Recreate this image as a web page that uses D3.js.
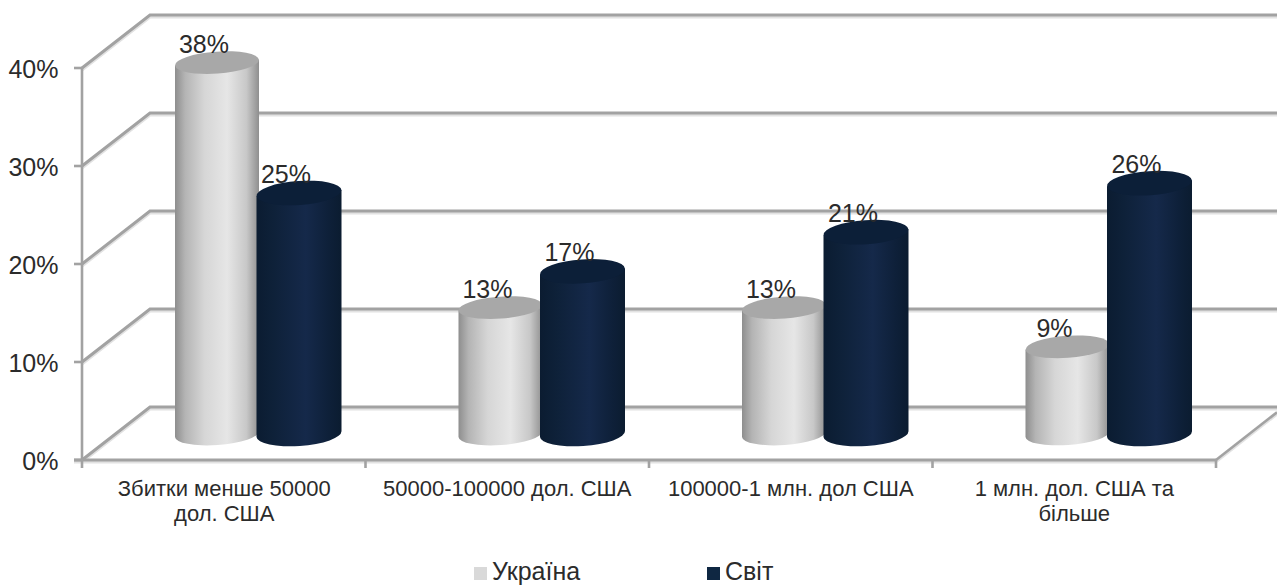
<!DOCTYPE html>
<html lang="uk">
<head>
<meta charset="utf-8">
<script src="https://cdnjs.cloudflare.com/ajax/libs/d3/7.8.5/d3.min.js"></script>
<style>
html, body { margin: 0; padding: 0; background: #fff; }
svg { display: block; font-family: "Liberation Sans", Arial, sans-serif; }
text { fill: #2b2b2b; }
</style>
</head>
<body>
<svg id="chart" width="1277" height="585"></svg>
<script>
// Chart content
const categories = [
  ["Збитки менше 50000", "дол. США"],
  ["50000-100000 дол. США"],
  ["100000-1 млн. дол США"],
  ["1 млн. дол. США та", "більше"]
];
const seriesNames = ["Україна", "Світ"];
const ukraine = [38, 13, 13, 9];
const world = [25, 17, 21, 26];
const yTicks = [0, 10, 20, 30, 40];

// Front plane of the 3D plot and the shift towards its back wall
const frame = { left: 82, right: 1216, bottom: 460, top: 68 };
const depth = { dx: 68, dy: -53 };
const wallRight = 1277;

const svg = d3.select("#chart");
const y = d3.scaleLinear().domain([0, 40]).range([frame.bottom, frame.top]);
const x = d3.scaleBand().domain(d3.range(categories.length)).range([frame.left, frame.right]);
const inner = d3.scaleBand().domain([0, 1]).range([93, 259]);

// Gradients for the cylinder bodies
const defs = svg.append("defs");
function bodyGradient(id, stops) {
  const g = defs.append("linearGradient").attr("id", id);
  stops.forEach(([o, c]) => g.append("stop").attr("offset", o).attr("stop-color", c));
}
bodyGradient("bodyLight", [[0, "#8e8e8e"], [0.12, "#b4b4b4"], [0.35, "#d6d6d6"], [0.62, "#e6e6e6"], [0.85, "#c8c8c8"], [1, "#8f8f8f"]]);
bodyGradient("bodyDark", [[0, "#0b1c31"], [0.2, "#0e2139"], [0.58, "#15294a"], [0.85, "#0e2039"], [1, "#0b1c30"]]);

const gridColor = "#a2a2a2";
const gridShadow = "#e2e2e2";
const grid = svg.append("g").attr("fill", "none");

// Back wall lines with the side wall diagonals
function wallLine(pts, color, width, shift) {
  grid.append("path")
    .attr("d", d3.line()(pts.map(p => [p[0], p[1] + shift])))
    .attr("stroke", color).attr("stroke-width", width);
}
[gridShadow, gridColor].forEach((color, i) => {
  const shift = i === 0 ? 2 : 0;
  yTicks.forEach(t => {
    wallLine([
      [frame.left, y(t)],
      [frame.left + depth.dx, y(t) + depth.dy],
      [wallRight, y(t) + depth.dy]
    ], color, 3, shift);
  });
  // Floor edge on the right side
  wallLine([[frame.right, frame.bottom], [wallRight, frame.bottom + depth.dy * 0.9]], color, 2.6, shift);
  // Front axes
  wallLine([[frame.left - 8, frame.bottom], [frame.right, frame.bottom]], color, 3, shift);
});
wallLine([[frame.left, frame.top], [frame.left, frame.bottom + 8]], gridColor, 2.6, 0);
yTicks.forEach(t => wallLine([[frame.left - 8, y(t)], [frame.left, y(t)]], gridColor, 2.6, 0));
d3.range(1, categories.length + 1).forEach(i => {
  const tx = i === categories.length ? frame.right : x(i);
  wallLine([[tx, frame.bottom], [tx, frame.bottom + 8]], gridColor, 2.6, 0);
});

// Value axis labels
svg.append("g").selectAll("text").data(yTicks).join("text")
  .attr("x", 58.5).attr("y", d => y(d) + 9.5)
  .attr("text-anchor", "end").attr("font-size", 25)
  .text(d => d + "%");

// Cylinders
const tilt = -4;
const slope = Math.sin(tilt * Math.PI / 180);
const baseY = 434;
const series = [
  { values: ukraine, body: "url(#bodyLight)", cap: "#a8a8a8", rx: 42, ry: 11, lift: 25, nudge: 0.5 },
  { values: world, body: "url(#bodyDark)", cap: "#0c1f38", rx: 42.5, ry: 12, lift: 22, nudge: -0.5 }
];
const bars = svg.append("g");
const labels = svg.append("g");
categories.forEach((_, c) => {
  series.forEach((s, j) => {
    const cx = x(c) + inner(j) + inner.bandwidth() / 2 + s.nudge;
    const top = y(s.values[c]) - s.lift;
    const t = -s.rx * slope;
    bars.append("path")
      .attr("d", `M${cx - s.rx},${top + t}L${cx - s.rx},${baseY + t}` +
        `A${s.rx},${s.ry} ${tilt} 0 0 ${cx + s.rx},${baseY - t}L${cx + s.rx},${top - t}Z`)
      .attr("fill", s.body);
    bars.append("ellipse")
      .attr("rx", s.rx).attr("ry", s.ry)
      .attr("transform", `translate(${cx},${top}) rotate(${tilt})`)
      .attr("fill", s.cap);
    labels.append("text")
      .attr("x", cx - 13).attr("y", top - 10)
      .attr("text-anchor", "middle").attr("font-size", 25)
      .text(s.values[c] + "%");
  });
});

// Category labels
const catLabels = svg.append("g").attr("text-anchor", "middle").attr("font-size", 22);
categories.forEach((lines, c) => {
  lines.forEach((line, k) => {
    catLabels.append("text")
      .attr("x", x(c) + x.bandwidth() / 2 + (c === 0 ? 0.5 : 0))
      .attr("y", 496 + k * 24.5)
      .text(line);
  });
});

// Legend
const legendItems = [
  { name: seriesNames[0], swatch: "#d9d9d9", x: 474 },
  { name: seriesNames[1], swatch: "#0f2742", x: 707 }
];
const legend = svg.append("g");
legendItems.forEach(item => {
  legend.append("rect").attr("x", item.x).attr("y", 567).attr("width", 13).attr("height", 13).attr("fill", item.swatch);
  legend.append("text").attr("x", item.x + 18).attr("y", 579.5).attr("font-size", 25).text(item.name);
});
</script>
</body>
</html>
